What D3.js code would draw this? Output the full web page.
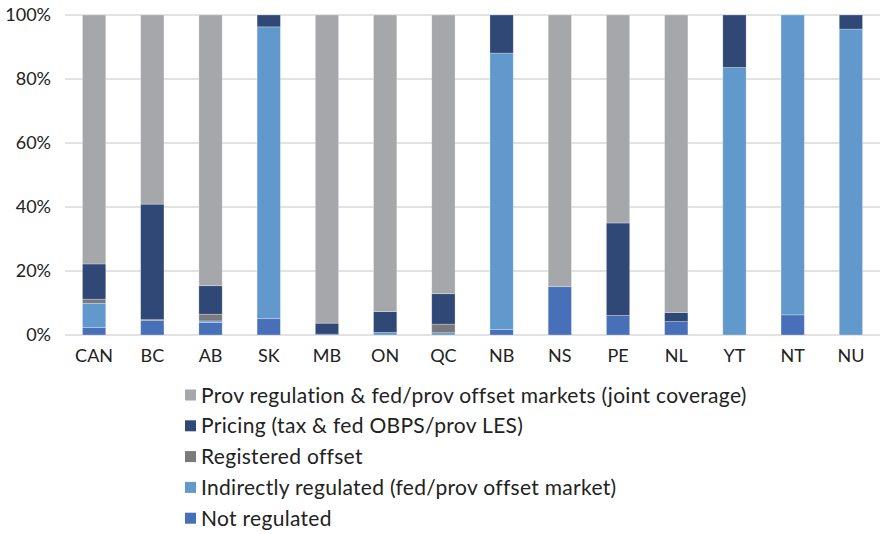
<!DOCTYPE html>
<html>
<head>
<meta charset="utf-8">
<script src="https://d3js.org/d3.v7.min.js"></script>
<style>
  body { margin: 0; background: #fff; }
  text { font-family: Lato, "Open Sans", sans-serif; fill: #222; }
</style>
</head>
<body>
<svg id="chart" width="882" height="534"></svg>
<script>
// provinces / territories
var categories = ["CAN", "BC", "AB", "SK", "MB", "ON", "QC", "NB", "NS", "PE", "NL", "YT", "NT", "NU"];

// shares in % (bottom -> top of each bar)
var notRegulated   = [2.3, 4.5, 3.9, 5.1, 0.3, 0.0, 0.0, 1.7, 15.1, 6.1, 4.2, 0.0, 6.3, 0.0];
var indirectlyReg  = [7.6, 0.0, 0.5, 91.2, 0.0, 0.8, 0.7, 86.4, 0.0, 0.0, 0.0, 83.6, 93.7, 95.6];
var registeredOff  = [1.3, 0.3, 2.1, 0.0, 0.0, 0.0, 2.7, 0.0, 0.0, 0.0, 0.0, 0.0, 0.0, 0.0];
var pricing        = [11.0, 36.1, 8.9, 3.7, 3.4, 6.5, 9.5, 11.9, 0.0, 28.9, 2.8, 16.4, 0.0, 4.4];
var provRegulation = [77.8, 59.1, 84.6, 0.0, 96.3, 92.7, 87.1, 0.0, 84.9, 65.0, 93.0, 0.0, 0.0, 0.0];

var yTicks = [0, 20, 40, 60, 80, 100];

// series in stacking order, legend is shown in reverse
var seriesKeys = ["nr", "ir", "ro", "pr", "pv"];
var seriesNames = {
  nr: "Not regulated",
  ir: "Indirectly regulated (fed/prov offset market)",
  ro: "Registered offset",
  pr: "Pricing (tax & fed OBPS/prov LES)",
  pv: "Prov regulation & fed/prov offset markets (joint coverage)"
};
var seriesColors = {
  nr: "#4770b8",
  ir: "#6299cc",
  ro: "#7a797b",
  pr: "#304876",
  pv: "#a6a7ab"
};

var rows = categories.map(function(c, i) {
  return { cat: c, nr: notRegulated[i], ir: indirectlyReg[i], ro: registeredOff[i],
           pr: pricing[i], pv: provRegulation[i] };
});

var svg = d3.select("#chart");
var margin = { left: 65, right: 2, top: 15, bottom: 199 };
var W = 882, H = 534;

var x = d3.scaleBand()
  .domain(categories)
  .range([margin.left, W - margin.right])
  .paddingInner(0.6)
  .paddingOuter(0.3);

var y = d3.scaleLinear()
  .domain([0, 100])
  .range([H - margin.bottom, margin.top]);

// gridlines
svg.append("g")
  .selectAll("line")
  .data(yTicks)
  .enter().append("line")
    .attr("x1", margin.left)
    .attr("x2", W - margin.right)
    .attr("y1", function(d) { return y(d); })
    .attr("y2", function(d) { return y(d); })
    .attr("stroke", "#d9d9d9")
    .attr("stroke-width", 1.5);

// y axis labels
var yAxis = d3.axisLeft(y)
  .tickValues(yTicks)
  .tickSize(0)
  .tickPadding(14)
  .tickFormat(function(d) { return d + "%"; });
var gy = svg.append("g")
  .attr("transform", "translate(" + margin.left + ",0)")
  .call(yAxis);
gy.select(".domain").remove();
gy.selectAll("text").style("font-size", "18px").attr("fill", "#222").style("font-family", "Lato, sans-serif");

// stacked bars
var stack = d3.stack().keys(seriesKeys);
var layers = stack(rows);

svg.append("g")
  .selectAll("g")
  .data(layers)
  .enter().append("g")
    .attr("fill", function(d) { return seriesColors[d.key]; })
  .selectAll("rect")
  .data(function(d) { return d.filter(function(p) { return p[1] - p[0] > 0; }); })
  .enter().append("rect")
    .attr("x", function(d) { return x(d.data.cat); })
    .attr("width", x.bandwidth())
    .attr("y", function(d) { return y(d[1]); })
    .attr("height", function(d) { return y(d[0]) - y(d[1]); })
    .attr("stroke", "#fff")
    .attr("stroke-opacity", 0.35)
    .attr("stroke-width", 0.75);

// x axis
var xAxis = d3.axisBottom(x).tickSize(0).tickPadding(14);
var gx = svg.append("g")
  .attr("transform", "translate(0," + y(0) + ")")
  .call(xAxis);
gx.select(".domain").remove();
gx.selectAll("text").style("font-size", "18px").attr("fill", "#222").style("font-family", "Lato, sans-serif");

// legend
var legend = svg.append("g")
  .selectAll("g")
  .data(seriesKeys.slice().reverse())
  .enter().append("g")
    .attr("transform", function(d, i) { return "translate(185," + (395 + i * 30.8) + ")"; });

legend.append("rect")
  .attr("x", 0)
  .attr("y", -5.5)
  .attr("width", 11)
  .attr("height", 11)
  .attr("fill", function(d) { return seriesColors[d]; });

legend.append("text")
  .attr("x", 16)
  .attr("y", 0)
  .attr("dy", "0.36em")
  .style("font-size", "21px")
  .style("letter-spacing", "0.3px")
  .text(function(d) { return seriesNames[d]; });
</script>
</body>
</html>
